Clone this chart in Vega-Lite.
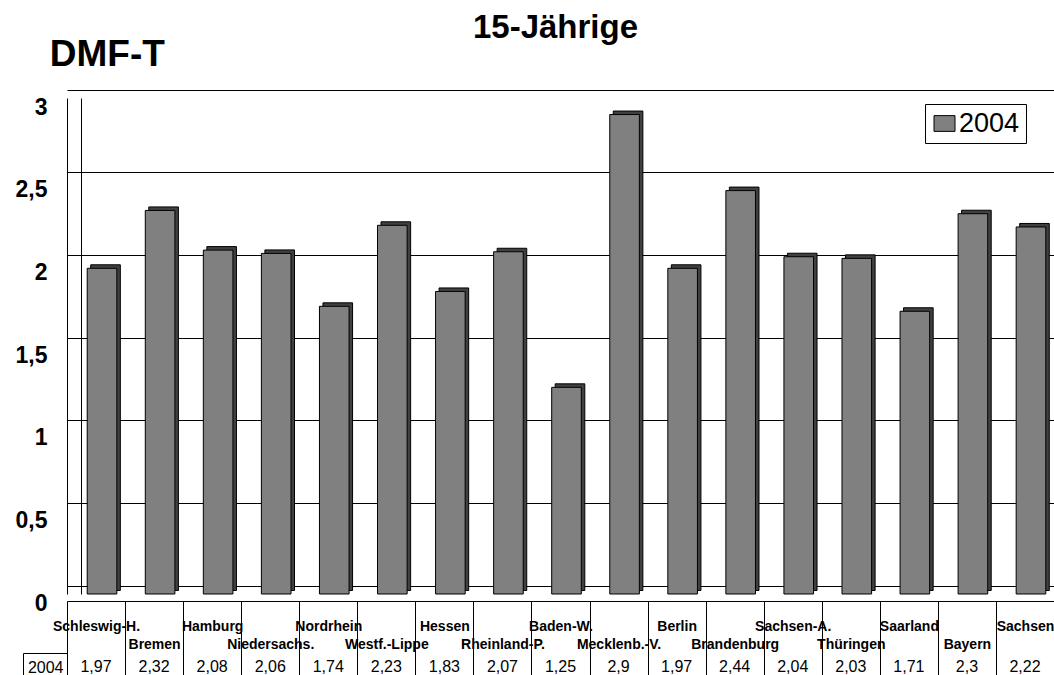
{
  "$schema": "https://vega.github.io/schema/vega-lite/v6.json",
  "background": "white",
  "padding": {"left": 15, "top": 12, "right": 0, "bottom": 0},
  "title": {"text": "15-Jährige", "fontSize": 33, "fontWeight": "bold", "font": "Liberation Sans", "color": "black", "anchor": "middle", "frame": "group", "offset": -9.5, "dx": -5},
  "config": {
    "locale": {"number": {"decimal": ",", "thousands": ".", "grouping": [3], "currency": ["", " €"]}},
    "font": "Liberation Sans",
    "view": {"stroke": null},
    "axis": {"labelColor": "black", "titleColor": "black", "domainColor": "black", "tickColor": "black", "gridColor": "black", "labelFont": "Liberation Sans", "titleFont": "Liberation Sans"}
  },
  "datasets": {
    "dmft": [
      {"state": "Schleswig-H.", "value": 1.97, "year": "2004"},
      {"state": "Bremen", "value": 2.32, "year": "2004"},
      {"state": "Hamburg", "value": 2.08, "year": "2004"},
      {"state": "Niedersachs.", "value": 2.06, "year": "2004"},
      {"state": "Nordrhein", "value": 1.74, "year": "2004"},
      {"state": "Westf.-Lippe", "value": 2.23, "year": "2004"},
      {"state": "Hessen", "value": 1.83, "year": "2004"},
      {"state": "Rheinland-P.", "value": 2.07, "year": "2004"},
      {"state": "Baden-W.", "value": 1.25, "year": "2004"},
      {"state": "Mecklenb.-V.", "value": 2.9, "year": "2004"},
      {"state": "Berlin", "value": 1.97, "year": "2004"},
      {"state": "Brandenburg", "value": 2.44, "year": "2004"},
      {"state": "Sachsen-A.", "value": 2.04, "year": "2004"},
      {"state": "Thüringen", "value": 2.03, "year": "2004"},
      {"state": "Saarland", "value": 1.71, "year": "2004"},
      {"state": "Bayern", "value": 2.3, "year": "2004"},
      {"state": "Sachsen", "value": 2.22, "year": "2004"}
    ]
  },
  "bounds": "flush",
  "spacing": 59,
  "vconcat": [
    {
      "width": 987,
      "height": 496,
      "data": {"name": "dmft"},
      "encoding": {
        "x": {
          "field": "state", "type": "nominal", "sort": null,
          "scale": {"paddingInner": 0, "paddingOuter": 0},
          "axis": {
            "title": null, "orient": "bottom", "offset": 7, "tickBand": "extent",
            "tickSize": 80, "tickWidth": 1,
            "labelPadding": -62, "labelFontSize": 14, "labelFontWeight": "bold",
            "labelAngle": 0, "labelOverlap": false, "labelLimit": 0, "labelBound": false,
            "labelFlush": false, "labelLineHeight": 18, "labelBaseline": "top", "labelAlign": "center",
            "labelExpr": "round(datum.index * 16) % 2 == 1 ? ['', datum.label] : datum.label"
          }
        }
      },
      "layer": [
        {
          "mark": {"type": "bar", "width": {"band": 0.51}, "xOffset": 9.5, "yOffset": -3.5, "fill": "#404040", "stroke": "black", "strokeWidth": 1},
          "encoding": {
            "y": {
              "field": "value", "type": "quantitative",
              "scale": {"domain": [0, 3], "nice": false},
              "axis": {"orient": "left", "offset": -14, "labels": false, "ticks": false, "grid": false, "domain": true, "title": null}
            }
          }
        },
        {
          "mark": {"type": "bar", "width": {"band": 0.51}, "xOffset": 6, "stroke": "black", "strokeWidth": 1},
          "encoding": {
            "y": {
              "field": "value", "type": "quantitative",
              "scale": {"domain": [0, 3], "nice": false},
              "axis": {
                "orient": "left",
                "values": [0, 0.5, 1, 1.5, 2, 2.5, 3], "format": "~g",
                "grid": true, "gridWidth": 1, "tickOffset": -8.3, "labelOffset": 17.5,
                "ticks": false, "labelPadding": 20, "labelFontSize": 23, "labelFontWeight": "bold",
                "domain": true,
                "title": "DMF-T", "titleAngle": 0, "titleAlign": "left", "titleBaseline": "alphabetic",
                "titleX": -17.7, "titleY": -32.5, "titleFontSize": 37, "titleFontWeight": "bold"
              }
            },
            "color": {
              "field": "year", "type": "nominal",
              "scale": {"range": ["#808080"]},
              "legend": {
                "title": null, "orient": "none", "legendX": 858, "legendY": 6,
                "symbolType": "M-1,-0.75H1V0.75H-1Z", "symbolSize": 441,
                "symbolStrokeColor": "black", "symbolStrokeWidth": 1,
                "labelFontSize": 27, "labelFont": "Liberation Sans", "labelColor": "black",
                "labelOffset": 1, "strokeColor": "black", "fillColor": "white", "padding": 6
              }
            }
          }
        }
      ],
      "resolve": {"axis": {"y": "independent"}}
    },
    {
      "width": 987,
      "height": 28,
      "data": {"name": "dmft"},
      "mark": {"type": "text", "fontSize": 16, "font": "Liberation Sans", "color": "black"},
      "encoding": {
        "x": {"field": "state", "type": "nominal", "sort": null, "scale": {"paddingInner": 0, "paddingOuter": 0}, "axis": null},
        "y": {
          "field": "year", "type": "nominal",
          "scale": {"paddingInner": 0, "paddingOuter": 0},
          "axis": {"title": null, "offset": 44, "tickBand": "extent", "tickSize": -44, "labelPadding": 4, "labelFontSize": 16, "labelFontWeight": "normal"}
        },
        "text": {"field": "value", "type": "quantitative", "format": "~g"}
      }
    }
  ]
}
